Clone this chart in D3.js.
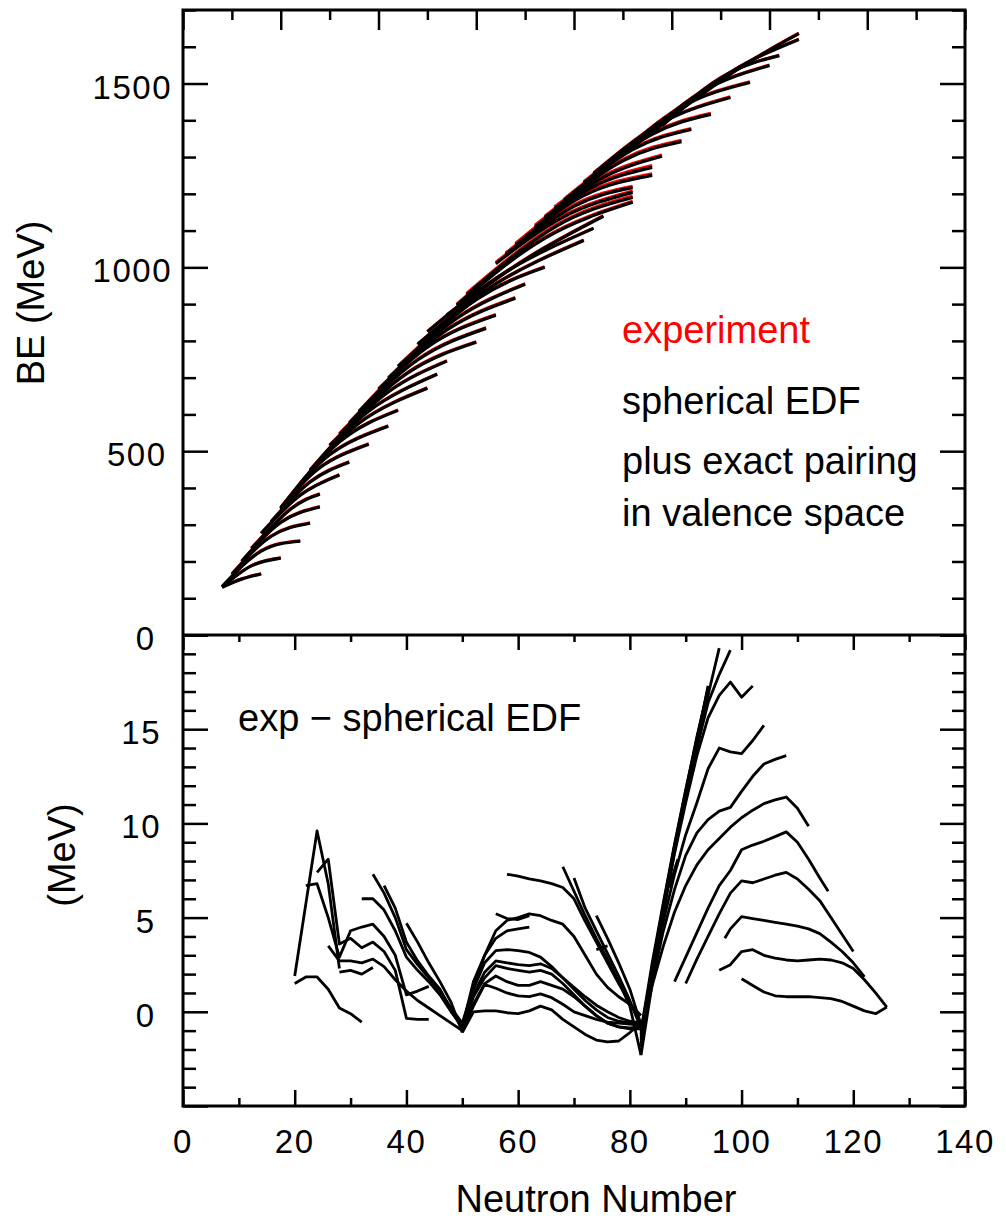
<!DOCTYPE html>
<html>
<head>
<meta charset="utf-8">
<script src="https://cdn.jsdelivr.net/npm/d3@7"></script>
<style>
  html, body { margin: 0; padding: 0; background: #fff; }
  svg text { font-family: "Liberation Sans", Arial, Helvetica, sans-serif; fill: #000; }
</style>
</head>
<body>
<svg id="chart" width="1006" height="1219"></svg>
<script>
// ---- top panel: binding energy along isotope chains, [N, BE in MeV] (start, middle, end)
const beChains = [
  [[8, 130], [12, 152], [16, 166]],
  [[8, 130], [14, 188], [20, 209]],
  [[8, 131], [16, 228], [24, 255]],
  [[10, 165], [18, 268], [26, 304]],
  [[12, 200], [20, 306], [28, 348]],
  [[14, 235], [22, 342], [28, 383]],
  [[16, 276], [24, 380], [32, 435]],
  [[18, 307], [26, 416], [34, 470]],
  [[20, 342], [28, 455], [38, 519]],
  [[20, 344], [30, 490], [42, 568]],
  [[20, 346], [32, 525], [44, 611]],
  [[24, 412], [36, 576], [50, 671]],
  [[26, 448], [38, 609], [52, 709]],
  [[30, 515], [42, 661], [54, 745]],
  [[32, 546], [46, 713], [60, 796]],
  [[34, 576], [48, 748], [62, 834]],
  [[36, 607], [50, 783], [64, 870]],
  [[40, 668], [54, 830], [68, 916]],
  [[42, 698], [56, 861], [70, 954]],
  [[44, 730], [60, 912], [74, 1000]],
  [[48, 790], [64, 955], [82, 1073]],
  [[50, 825], [66, 987], [84, 1106]],
  [[54, 870], [70, 1021], [86, 1139]],
  [[56, 897], [74, 1079], [92, 1177]],
  [[58, 925], [76, 1109], [92, 1190]],
  [[64, 1010], [78, 1138], [92, 1204]],
  [[66, 1035], [80, 1166], [92, 1217]],
  [[68, 1060], [82, 1195], [96, 1250]],
  [[72, 1110], [84, 1220], [96, 1272]],
  [[74, 1135], [86, 1245], [98, 1302]],
  [[76, 1160], [90, 1290], [102, 1342]],
  [[78, 1183], [92, 1320], [104, 1375]],
  [[82, 1230], [96, 1362], [108, 1416]],
  [[84, 1255], [98, 1393], [112, 1462]],
  [[88, 1290], [102, 1436], [116, 1503]],
  [[92, 1325], [106, 1476], [120, 1549]],
  [[96, 1365], [110, 1515], [122, 1576]],
  [[98, 1385], [112, 1530], [126, 1620]],
  [[100, 1410], [114, 1543], [126, 1636]]
];
// how far the experimental curve sits above the model one (MeV), per chain
const expAbove = [1, 1, 1.5, 1.5, 1.5, 1.5, 1.5, 1.5, 1.5, 1.5, 1.5, 1.5, 1.5, 1.5, 2, 2, 2, 2, 2, 2,
  1.5, 1, 1.5, 3, 4, 4, 4, 5, 5, 4, 4, 3, 3, 2, 2, 1.5, 1, 1, 1];

// ---- bottom panel: exp - spherical EDF, [N, MeV]
const diffLeft = [
  [[20, 1.5], [22, 1.85], [24, 1.85], [26, 1.2], [28, 0.2], [30, -0.1], [32, -0.55]],
  [[20, 1.9], [24, 9.6], [26, 6.8], [28, 2.3]],
  [[22, 6.7], [24, 6.8], [26, 5.0], [28, 2.9], [30, 4.3], [32, 4.5], [34, 4.65], [36, 4.0], [38, 3.0], [40, 0.9], [42, 1.1], [44, 1.35]],
  [[24, 7.4], [26, 8.1], [28, 3.6], [30, 3.9], [32, 3.4], [34, 3.7], [36, 3.2], [38, 2.2], [40, -0.35], [42, -0.4], [44, -0.4]],
  [[26, 3.5], [28, 2.7], [30, 2.7], [32, 2.6], [34, 2.8], [36, 2.4], [38, 1.7], [40, 1.1], [42, 0.6], [44, 0.2], [46, -0.2], [48, -0.6], [50, -1.0]],
  [[28, 2.1], [30, 2.2], [32, 2.0], [34, 2.35]],
  [[32, 6.0], [34, 6.0], [36, 5.4], [38, 4.3], [40, 2.9], [42, 2.2], [44, 1.6], [46, 0.9], [48, 0.0], [50, -0.8]],
  [[34, 7.3], [36, 6.3], [38, 5.0], [40, 3.3], [42, 2.5], [44, 1.8], [46, 1.1], [48, 0.2], [50, -0.6]],
  [[36, 6.7], [38, 5.5], [40, 3.7], [42, 2.7], [44, 1.9], [46, 1.2], [48, 0.1], [50, -0.9]],
  [[40, 4.7], [42, 3.7], [44, 2.6], [46, 1.6], [48, 0.5], [50, -1.1]]
];
const diffMiddle = [
  [[50, -0.6], [52, 1.3], [54, 3.0], [56, 4.3], [58, 4.85], [60, 5.0], [62, 5.2], [64, 5.1], [66, 4.85], [68, 4.65], [70, 4.0], [72, 3.0], [74, 2.0], [76, 1.3], [78, 0.8], [80, 0.4], [82, -0.2]],
  [[56, 5.2], [58, 4.95], [60, 4.9], [62, 5.1]],
  [[50, -0.8], [52, 1.6], [54, 3.0], [56, 3.9], [58, 4.3], [60, 4.4], [62, 4.5]],
  [[50, -0.9], [52, 1.2], [54, 2.6], [56, 3.25], [58, 3.3], [60, 3.25], [62, 3.15], [64, 2.9], [66, 2.4], [68, 1.8], [70, 1.3], [72, 0.8], [74, 0.35], [76, 0.0], [78, -0.3], [80, -0.5], [82, -0.6]],
  [[50, -0.9], [52, 0.9], [54, 2.1], [56, 2.7], [58, 2.6], [60, 2.5], [62, 2.45], [64, 2.55], [66, 2.3], [68, 1.8], [70, 1.2], [72, 0.6], [74, 0.1], [76, -0.3], [78, -0.5], [80, -0.6], [82, -0.75]],
  [[50, -1.0], [52, 0.8], [54, 1.8], [56, 2.45], [58, 2.3], [60, 2.2], [62, 2.1], [64, 2.2], [66, 2.0], [68, 1.5], [70, 0.9], [72, 0.3], [74, -0.2], [76, -0.6], [78, -0.8], [80, -0.85], [82, -0.8]],
  [[50, -1.0], [52, 0.4], [54, 1.5], [56, 1.9], [58, 1.6], [60, 1.4], [62, 1.4], [64, 1.6], [66, 1.4], [68, 1.2], [70, 0.8], [72, 0.3], [74, -0.2], [76, -0.6], [78, -0.8], [80, -0.9], [82, -0.9]],
  [[50, -1.0], [52, 0.3], [54, 1.45], [56, 1.25], [58, 1.0], [60, 0.85], [62, 0.8], [64, 0.95], [66, 0.75], [68, 0.4], [70, 0.0], [72, -0.2], [74, -0.4], [76, -0.55], [78, -0.6], [80, -0.65], [82, -0.7]],
  [[50, -1.1], [52, 0.0], [54, 0.05], [56, 0.05], [58, -0.05], [60, -0.1], [62, 0.05], [64, 0.3], [66, 0.1], [68, -0.4], [70, -0.8], [72, -1.2], [74, -1.5], [76, -1.6], [78, -1.55], [80, -1.1], [82, -0.6]],
  [[58, 7.3], [60, 7.2], [62, 7.05], [64, 6.95], [66, 6.8], [68, 6.6], [70, 6.0], [72, 4.8], [74, 3.7], [76, 2.6], [78, 1.5], [80, 0.5], [82, -0.6]],
  [[68, 7.7], [70, 6.4], [72, 5.1], [74, 3.9], [76, 2.8], [78, 1.6], [80, 0.3], [82, -2.3]],
  [[70, 7.1], [72, 5.5], [74, 4.3], [76, 3.1], [78, 1.9], [80, 0.6], [82, -0.9]],
  [[74, 5.1], [76, 3.9], [78, 2.6], [80, 1.2], [82, -0.7]],
  [[74, 3.3], [76, 3.5]]
];
const diffRight = [
  [[82, -1.0], [84, 2.6], [86, 5.8], [88, 8.9], [90, 11.8], [92, 14.5], [94, 17.2]],
  [[82, -1.4], [84, 2.2], [86, 5.5], [88, 8.7], [90, 11.6], [92, 14.4], [94, 17.0]],
  [[82, -1.5], [84, 2.4], [86, 5.7], [88, 8.8], [90, 11.7], [92, 14.6], [94, 17.1]],
  [[82, -1.9], [84, 1.8], [86, 5.4], [88, 8.6], [90, 11.4], [92, 14.1], [94, 16.9]],
  [[82, -2.3], [84, 1.5], [86, 5.2], [88, 8.5], [90, 11.5], [92, 14.3], [94, 17.3]],
  [[82, -1.7], [84, 2.0], [86, 5.5], [88, 8.7], [90, 11.6], [92, 14.3], [94, 16.8], [96, 19.3]],
  [[82, -1.2], [84, 2.3], [86, 5.6], [88, 8.8], [90, 11.5], [92, 14.0], [94, 16.4], [96, 17.9], [98, 19.2]],
  [[82, -1.0], [84, 2.3], [86, 5.4], [88, 8.4], [90, 11.1], [92, 13.6], [94, 15.6], [96, 16.8], [98, 17.5], [100, 16.7], [102, 17.3]],
  [[82, -1.1], [84, 2.0], [86, 4.8], [88, 7.3], [90, 9.4], [92, 11.1], [94, 12.9], [96, 14.0], [98, 13.8], [100, 13.7], [102, 14.4], [104, 15.2]],
  [[82, -1.2], [84, 1.6], [86, 4.3], [88, 6.5], [90, 8.3], [92, 9.5], [94, 10.2], [96, 10.65], [98, 10.85], [100, 11.7], [102, 12.5], [104, 13.15], [106, 13.4], [108, 13.6]],
  [[82, -1.3], [84, 1.4], [86, 3.5], [88, 5.3], [90, 6.7], [92, 7.8], [94, 8.6], [96, 9.2], [98, 9.8], [100, 10.3], [102, 10.7], [104, 11.05], [106, 11.25], [108, 11.4], [110, 10.8], [112, 9.85]],
  [[88, 1.6], [90, 2.9], [92, 4.2], [94, 5.5], [96, 6.7], [98, 7.5], [100, 8.6], [102, 8.85], [104, 9.05], [106, 9.3], [108, 9.55], [110, 9.0], [112, 8.1], [114, 7.1], [115.5, 6.4]],
  [[90, 1.5], [92, 2.8], [94, 4.0], [96, 5.2], [98, 6.3], [100, 6.95], [102, 6.85], [104, 7.05], [106, 7.25], [108, 7.4], [110, 7.05], [112, 6.5], [114, 5.9], [116, 5.0], [118, 4.1], [120, 3.2]],
  [[97, 3.9], [98, 4.4], [100, 5.05], [102, 4.95], [104, 4.85], [106, 4.75], [108, 4.65], [110, 4.55], [112, 4.4], [114, 4.15], [116, 3.7], [118, 3.2], [120, 2.6], [122, 1.85]],
  [[96, 2.2], [98, 2.5], [100, 3.2], [102, 3.3], [104, 3.0], [106, 2.85], [108, 2.75], [110, 2.7], [112, 2.75], [114, 2.8], [116, 2.75], [118, 2.6], [120, 2.3], [122, 1.7], [124, 1.0], [126, 0.25]],
  [[100, 1.75], [102, 1.4], [104, 1.05], [106, 0.85], [108, 0.8], [110, 0.8], [112, 0.8], [114, 0.75], [116, 0.7], [118, 0.55], [120, 0.3], [122, 0.05], [124, -0.1], [126, 0.25]],
  [[87, 6.6], [88.6, 8.1]]
];

// ---- ticks
const nTopMajor = [0, 20, 40, 60, 80, 100, 120, 140, 160];
const nTopMinor = [10, 30, 50, 70, 90, 110, 130, 150];
const beMajor = [0, 500, 1000, 1500];
const beMinor = d3.range(100, 1701, 100).filter(v => v % 500 !== 0);
const beLabels = ["0", "500", "1000", "1500"];
const nMajor = [0, 20, 40, 60, 80, 100, 120, 140];
const nMinor = [10, 30, 50, 70, 90, 110, 130];
const dMajor = [-5, 0, 5, 10, 15, 20];
const dMinor = d3.range(-4, 20, 1).filter(v => v % 5 !== 0);
const dLabels = ["0", "5", "10", "15"];

const svg = d3.select("#chart");
const X0 = 183, X1 = 965, YT = 10, YM = 635, YB = 1106;

const xTop = d3.scaleLinear().domain([0, 160]).range([X0, X1]);
const yTop = d3.scaleLinear().domain([0, 1700]).range([YM, YT]);
const xBot = d3.scaleLinear().domain([0, 140]).range([X0, X1]);
const yBot = d3.scaleLinear().domain([-5, 20]).range([YB, YM]);

// top panel curves: experiment (red) under the model (black)
const beLine = d3.line().x(d => xTop(d[0])).y(d => yTop(d[1])).curve(d3.curveNatural);
const expLine = (pts, gap) => beLine(pts.map(p => [p[0], p[1] + gap]));

svg.append("g").selectAll("path")
  .data(beChains)
  .enter().append("path")
  .attr("d", (d, i) => expLine(d, expAbove[i]))
  .attr("fill", "none")
  .attr("stroke", "#ff0000")
  .attr("stroke-width", 3);

svg.append("g").selectAll("path")
  .data(beChains)
  .enter().append("path")
  .attr("d", d => beLine(d))
  .attr("fill", "none")
  .attr("stroke", "#000")
  .attr("stroke-width", 3.2);

// bottom panel curves
const diffLine = d3.line().x(d => xBot(d[0])).y(d => yBot(d[1]));
svg.append("g").selectAll("path")
  .data(diffLeft.concat(diffMiddle, diffRight))
  .enter().append("path")
  .attr("d", d => diffLine(d))
  .attr("fill", "none")
  .attr("stroke", "#000")
  .attr("stroke-width", 2.8)
  .attr("stroke-linejoin", "round");

// frame
svg.append("rect")
  .attr("x", X0).attr("y", YT)
  .attr("width", X1 - X0).attr("height", YB - YT)
  .attr("fill", "none").attr("stroke", "#000").attr("stroke-width", 3);
svg.append("line")
  .attr("x1", X0).attr("x2", X1).attr("y1", YM).attr("y2", YM)
  .attr("stroke", "#000").attr("stroke-width", 3);

function tickSet(axis, translate, values, size) {
  const g = svg.append("g")
    .attr("transform", translate)
    .call(axis.tickValues(values).tickSize(size).tickFormat(""));
  g.select(".domain").remove();
  g.selectAll("line").attr("stroke", "#000").attr("stroke-width", 2.5);
}

// top panel ticks
tickSet(d3.axisTop(xTop), `translate(0,${YT})`, nTopMajor, -20);
tickSet(d3.axisTop(xTop), `translate(0,${YT})`, nTopMinor, -10);
tickSet(d3.axisLeft(yTop), `translate(${X0},0)`, beMajor, -25);
tickSet(d3.axisLeft(yTop), `translate(${X0},0)`, beMinor, -13);
tickSet(d3.axisRight(yTop), `translate(${X1},0)`, beMajor, -25);
tickSet(d3.axisRight(yTop), `translate(${X1},0)`, beMinor, -13);

// bottom panel ticks
tickSet(d3.axisTop(xBot), `translate(0,${YM})`, nMajor, -15);
tickSet(d3.axisTop(xBot), `translate(0,${YM})`, nMinor, -7);
tickSet(d3.axisBottom(xBot), `translate(0,${YB})`, nMajor, -16);
tickSet(d3.axisBottom(xBot), `translate(0,${YB})`, nMinor, -8);
tickSet(d3.axisLeft(yBot), `translate(${X0},0)`, dMajor, -25);
tickSet(d3.axisLeft(yBot), `translate(${X0},0)`, dMinor, -13);
tickSet(d3.axisRight(yBot), `translate(${X1},0)`, dMajor, -25);
tickSet(d3.axisRight(yBot), `translate(${X1},0)`, dMinor, -13);

// tick labels
const labelEnd = s => 172 - (4 - s.length) * 5.5;

svg.append("g").selectAll("text")
  .data(beLabels)
  .enter().append("text")
  .attr("x", d => labelEnd(d))
  .attr("y", d => yTop(+d) + 15)
  .attr("text-anchor", "end")
  .style("font-size", "33px")
  .style("letter-spacing", "1.5px")
  .text(d => d);

svg.append("g").selectAll("text")
  .data(dLabels)
  .enter().append("text")
  .attr("x", d => labelEnd(d))
  .attr("y", d => yBot(+d) + 15)
  .attr("text-anchor", "end")
  .style("font-size", "33px")
  .style("letter-spacing", "1.5px")
  .text(d => d);

svg.append("g").selectAll("text")
  .data(nMajor)
  .enter().append("text")
  .attr("x", d => xBot(d))
  .attr("y", YB + 47)
  .attr("text-anchor", "middle")
  .style("font-size", "33px")
  .style("letter-spacing", "1.5px")
  .text(d => d);

// axis titles
svg.append("text")
  .attr("transform", "translate(44,303) rotate(-90)")
  .attr("text-anchor", "middle")
  .style("font-size", "38px")
  .text("BE (MeV)");

svg.append("text")
  .attr("transform", "translate(75,855) rotate(-90)")
  .attr("text-anchor", "middle")
  .style("font-size", "38px")
  .text("(MeV)");

svg.append("text")
  .attr("x", 596).attr("y", 1212)
  .attr("text-anchor", "middle")
  .style("font-size", "38px")
  .text("Neutron Number");

// annotations
svg.append("text")
  .attr("x", 622).attr("y", 343)
  .style("font-size", "38px")
  .style("fill", "#ff0000")
  .text("experiment");

const notes = ["spherical EDF", "plus exact pairing", "in valence space"];
const noteY = [414, 474, 526];
svg.append("g").selectAll("text")
  .data(notes)
  .enter().append("text")
  .attr("x", 622)
  .attr("y", (d, i) => noteY[i])
  .style("font-size", "38px")
  .text(d => d);

svg.append("text")
  .attr("x", 238).attr("y", 731)
  .style("font-size", "38px")
  .text("exp \u2212 spherical EDF");
</script>
</body>
</html>
